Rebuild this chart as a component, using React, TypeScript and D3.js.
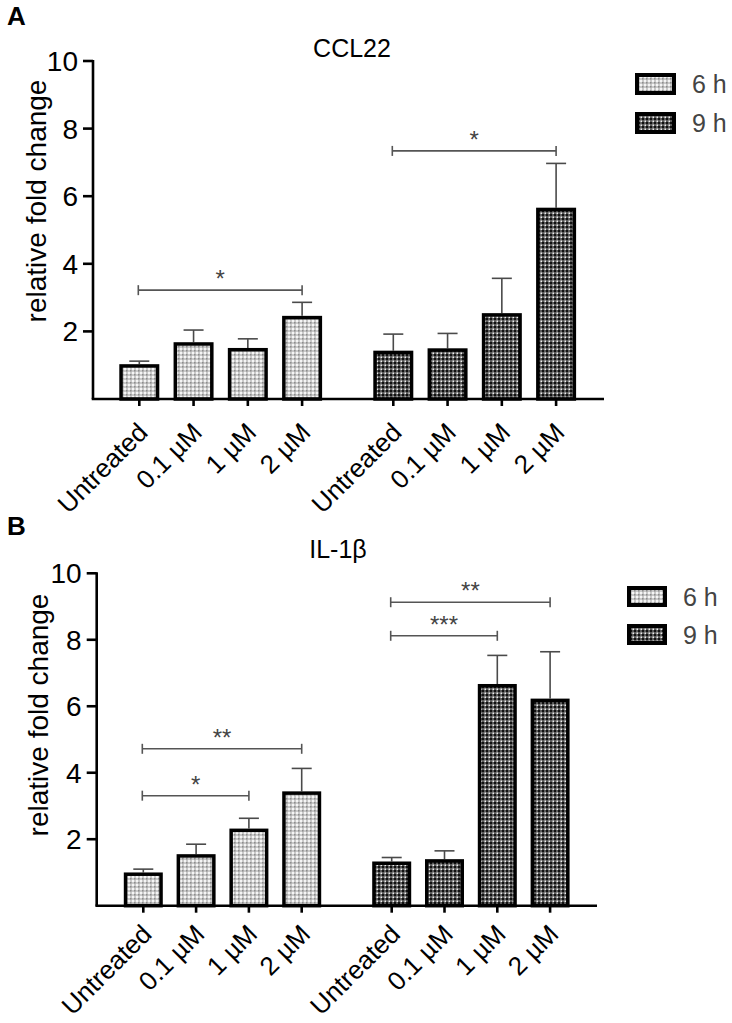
import React from "react";
import * as d3 from "d3";

const concentrations = ["Untreated", "0.1 µM", "1 µM", "2 µM"];
const times = ["6 h", "9 h"];
const yTicks = [2, 4, 6, 8, 10];

const ccl22_6h = [1.03, 1.68, 1.51, 2.46];
const ccl22_6h_err = [0.09, 0.36, 0.27, 0.4];
const ccl22_9h = [1.43, 1.5, 2.54, 5.66];
const ccl22_9h_err = [0.49, 0.44, 1.03, 1.31];

const il1b_6h = [1.0, 1.55, 2.32, 3.44];
const il1b_6h_err = [0.1, 0.3, 0.31, 0.69];
const il1b_9h = [1.33, 1.4, 6.67, 6.23];
const il1b_9h_err = [0.12, 0.25, 0.86, 1.41];

const ccl22_sig = [
  { time: "6 h", from: 0, to: 3, y: 3.22, label: "*" },
  { time: "9 h", from: 0, to: 3, y: 7.34, label: "*" },
];
const il1b_sig = [
  { time: "6 h", from: 0, to: 3, y: 4.72, label: "**" },
  { time: "6 h", from: 0, to: 2, y: 3.31, label: "*" },
  { time: "9 h", from: 0, to: 3, y: 9.13, label: "**" },
  { time: "9 h", from: 0, to: 2, y: 8.12, label: "***" },
];

type PanelProps = {
  letter: string;
  title: string;
  values: number[][];
  errors: number[][];
  sig: { time: string; from: number; to: number; y: number; label: string }[];
  layout: {
    top: number; base: number; axisX: number; axisEnd: number;
    g0: number; g1: number; innerW: number; barW: number; labelDy: number;
    letterY: number; titleX: number; titleY: number; yTitleX: number; yTitleY: number;
    legX: number; legY: number; legW: number; legH: number; legGap: number;
  };
};

const FONT = "Arial, 'Liberation Sans', Helvetica, sans-serif";

function Panel({ letter, title, values, errors, sig, layout: L }: PanelProps) {
  const y = d3.scaleLinear().domain([0, 10]).range([L.base, L.top]);
  const outer = d3.scalePoint<string>().domain(times).range([L.g0, L.g1]);
  const inner = d3.scalePoint<string>().domain(concentrations).range([0, L.innerW]);
  const xc = (t: string, c: string) => (outer(t) as number) + (inner(c) as number);
  const fills = ["url(#p6)", "url(#p9)"];
  const sw = 3.5;
  return (
    <g>
      <text x={7} y={L.letterY} fontFamily={FONT} fontWeight="bold" fontSize={26}>{letter}</text>
      <text x={L.titleX} y={L.titleY} fontFamily={FONT} fontSize={25} textAnchor="middle">{title}</text>
      <text
        transform={`translate(${L.yTitleX},${L.yTitleY}) rotate(-90)`}
        fontFamily={FONT} fontSize={28} textAnchor="middle" dominantBaseline="central"
      >relative fold change</text>
      {/* bars */}
      {times.map((t, ti) =>
        concentrations.map((c, ci) => {
          const v = values[ti][ci];
          const e = errors[ti][ci];
          const cx = xc(t, c);
          const w = L.barW - sw;
          return (
            <g key={t + c}>
              <line x1={cx} x2={cx} y1={y(v)} y2={y(v + e)} stroke="#4a4a4a" strokeWidth={1.6} />
              <line x1={cx - 10} x2={cx + 10} y1={y(v + e)} y2={y(v + e)} stroke="#4a4a4a" strokeWidth={1.6} />
              <rect x={cx - w / 2} y={y(v) + sw / 2} width={w} height={y(0) - y(v) - sw / 2}
                fill={fills[ti]} stroke="#000" strokeWidth={sw} />
            </g>
          );
        })
      )}
      {/* y axis */}
      <line x1={L.axisX} x2={L.axisX} y1={L.top - 1} y2={L.base} stroke="#000" strokeWidth={2.6} />
      {yTicks.map((t) => (
        <g key={t}>
          <line x1={L.axisX - 10} x2={L.axisX} y1={y(t)} y2={y(t)} stroke="#000" strokeWidth={2.6} />
          <text x={L.axisX - 15} y={y(t)} dy="0.36em" textAnchor="end" fontFamily={FONT} fontSize={28}>{t}</text>
        </g>
      ))}
      {/* x axis */}
      <line x1={L.axisX - 1.3} x2={L.axisEnd} y1={L.base} y2={L.base} stroke="#000" strokeWidth={2.6} />
      {times.map((t) =>
        concentrations.map((c) => {
          const cx = xc(t, c);
          return (
            <g key={"x" + t + c}>
              <line x1={cx} x2={cx} y1={L.base} y2={L.base + 7} stroke="#000" strokeWidth={2.6} />
              <text transform={`translate(${cx + 10},${L.base + L.labelDy}) rotate(-45)`} textAnchor="end"
                fontFamily={FONT} fontSize={26}>{c}</text>
            </g>
          );
        })
      )}
      {/* significance */}
      {sig.map((s, i) => {
        const x1 = xc(s.time, concentrations[s.from]) - 1;
        const x2 = xc(s.time, concentrations[s.to]);
        const yy = y(s.y);
        return (
          <g key={"s" + i} stroke="#555" strokeWidth={1.6}>
            <line x1={x1} x2={x2} y1={yy} y2={yy} />
            <line x1={x1} x2={x1} y1={yy - 5} y2={yy + 5} />
            <line x1={x2} x2={x2} y1={yy - 5} y2={yy + 5} />
            <text x={(x1 + x2) / 2} y={yy - 3} textAnchor="middle" fontFamily={FONT} fontSize={24}
              fill="#444" stroke="none">{s.label}</text>
          </g>
        );
      })}
      {/* legend */}
      {times.map((t, ti) => {
        const ly = L.legY + ti * L.legGap;
        return (
          <g key={"l" + t}>
            <rect x={L.legX + 2} y={ly + 2} width={L.legW - 4} height={L.legH - 4}
              fill={fills[ti]} stroke="#000" strokeWidth={4} />
            <text x={L.legX + L.legW + 16} y={ly + L.legH / 2} dy="0.36em" fontFamily={FONT}
              fontSize={25} fill="#444">{t}</text>
          </g>
        );
      })}
    </g>
  );
}

export default function App() {
  return (
    <svg width={732} height={1023} style={{ position: "absolute", left: 0, top: 0, background: "#fff" }}>
      <defs>
        <pattern id="p6" width={4} height={4} patternUnits="userSpaceOnUse">
          <rect width={4} height={4} fill="#c9c9c9" />
          <rect x={0} y={0} width={2} height={2} fill="#f5f5f5" />
          <rect x={2} y={2} width={1.6} height={1.6} fill="#8c8c8c" />
        </pattern>
        <pattern id="p9" width={4} height={4} patternUnits="userSpaceOnUse">
          <rect width={4} height={4} fill="#5a5a5a" />
          <rect x={0.5} y={0.5} width={1.5} height={1.5} fill="#f0f0f0" />
          <rect x={2} y={2} width={2} height={2} fill="#111" />
        </pattern>
      </defs>
      <rect width={732} height={1023} fill="#fff" />
      <Panel
        letter="A" title="CCL22"
        values={[ccl22_6h, ccl22_9h]} errors={[ccl22_6h_err, ccl22_9h_err]} sig={ccl22_sig}
        layout={{
          top: 61, base: 399, axisX: 93, axisEnd: 604, g0: 139.3, g1: 393.3, innerW: 162.8, barW: 40, labelDy: 35,
          letterY: 25, titleX: 352, titleY: 57, yTitleX: 36, yTitleY: 201,
          legX: 635, legY: 73, legW: 41, legH: 22, legGap: 39,
        }}
      />
      <Panel
        letter="B" title="IL-1β"
        values={[il1b_6h, il1b_9h]} errors={[il1b_6h_err, il1b_9h_err]} sig={il1b_sig}
        layout={{
          top: 573.3, base: 905.7, axisX: 96.7, axisEnd: 597, g0: 143.3, g1: 391.7, innerW: 158.4, barW: 39, labelDy: 30,
          letterY: 535, titleX: 338, titleY: 558, yTitleX: 38, yTitleY: 715,
          legX: 627, legY: 586, legW: 40, legH: 21, legGap: 38,
        }}
      />
    </svg>
  );
}
